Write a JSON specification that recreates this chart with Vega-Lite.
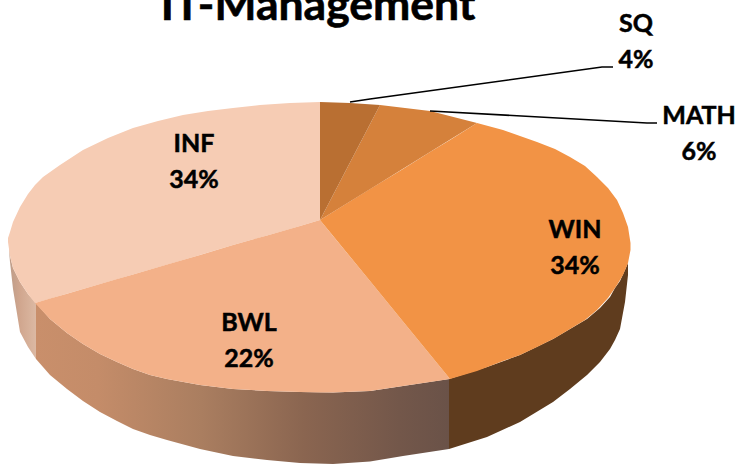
{"$schema":"https://vega.github.io/schema/vega-lite/v6.json","width":741,"height":464,"padding":0,"autosize":{"type":"none"},"background":"white","config":{"view":{"stroke":null}},
"datasets":{
"top":[
{"slice":"INF","x":8,"y":238,"y2":242},{"slice":"INF","x":10,"y":232,"y2":256},{"slice":"INF","x":13,"y":222,"y2":268},{"slice":"INF","x":20,"y":207,"y2":282},{"slice":"INF","x":28,"y":194,"y2":294},{"slice":"INF","x":35,"y":185,"y2":303},{"slice":"INF","x":43,"y":177,"y2":300.7},{"slice":"INF","x":60,"y":165,"y2":295.7},{"slice":"INF","x":83,"y":150,"y2":289},{"slice":"INF","x":108,"y":138,"y2":281.8},{"slice":"INF","x":133,"y":128,"y2":274.5},{"slice":"INF","x":158,"y":121,"y2":267.2},{"slice":"INF","x":183,"y":115,"y2":260},{"slice":"INF","x":208,"y":111,"y2":252.6},{"slice":"INF","x":233,"y":108,"y2":245},{"slice":"INF","x":260,"y":105,"y2":237.5},{"slice":"INF","x":290,"y":103,"y2":229},{"slice":"INF","x":320,"y":102,"y2":220},
{"slice":"BWL","x":35,"y":303,"y2":303},{"slice":"BWL","x":50,"y":298.6,"y2":319},{"slice":"BWL","x":67,"y":293.7,"y2":333},{"slice":"BWL","x":83,"y":289,"y2":344},{"slice":"BWL","x":100,"y":284,"y2":354},{"slice":"BWL","x":117,"y":279,"y2":362},{"slice":"BWL","x":133,"y":274.5,"y2":369},{"slice":"BWL","x":150,"y":269.5,"y2":375},{"slice":"BWL","x":167,"y":264.6,"y2":379},{"slice":"BWL","x":200,"y":255,"y2":385},{"slice":"BWL","x":233,"y":245,"y2":389},{"slice":"BWL","x":267,"y":235.4,"y2":391},{"slice":"BWL","x":300,"y":226,"y2":392},{"slice":"BWL","x":320,"y":220,"y2":392.5},{"slice":"BWL","x":333,"y":236,"y2":392.5},{"slice":"BWL","x":370,"y":281,"y2":391},{"slice":"BWL","x":403,"y":321.5,"y2":386},{"slice":"BWL","x":430,"y":354.5,"y2":382},{"slice":"BWL","x":450,"y":379,"y2":379},
{"slice":"WIN","x":320,"y":220,"y2":220},{"slice":"WIN","x":370,"y":189,"y2":281},{"slice":"WIN","x":403,"y":169,"y2":321.5},{"slice":"WIN","x":430,"y":152,"y2":354.5},{"slice":"WIN","x":450,"y":140,"y2":379},{"slice":"WIN","x":477,"y":123,"y2":371},{"slice":"WIN","x":503,"y":130,"y2":361},{"slice":"WIN","x":520,"y":136,"y2":355},{"slice":"WIN","x":537,"y":142,"y2":347},{"slice":"WIN","x":555,"y":149,"y2":338},{"slice":"WIN","x":570,"y":157,"y2":329},{"slice":"WIN","x":585,"y":166,"y2":320},{"slice":"WIN","x":597,"y":177,"y2":310},{"slice":"WIN","x":608,"y":188,"y2":298},{"slice":"WIN","x":617,"y":200,"y2":285},{"slice":"WIN","x":623,"y":213,"y2":275},{"slice":"WIN","x":628,"y":227,"y2":263},{"slice":"WIN","x":630.5,"y":243,"y2":250},
{"slice":"MATH","x":320,"y":220,"y2":220},{"slice":"MATH","x":350,"y":162.5,"y2":201.5},{"slice":"MATH","x":380,"y":105,"y2":183},{"slice":"MATH","x":430,"y":111,"y2":152},{"slice":"MATH","x":477,"y":123,"y2":123},
{"slice":"SQ","x":320,"y":102,"y2":220},{"slice":"SQ","x":350,"y":103,"y2":162.5},{"slice":"SQ","x":380,"y":105,"y2":105}
],
"side":[
{"slice":"INF","x":9,"y":245,"y2":250},{"slice":"INF","x":10,"y":256,"y2":262},{"slice":"INF","x":13,"y":268,"y2":289},{"slice":"INF","x":20,"y":282,"y2":332},{"slice":"INF","x":28,"y":294,"y2":347},{"slice":"INF","x":36,"y":303,"y2":359},
{"slice":"BWL","x":36,"y":303,"y2":359},{"slice":"BWL","x":50,"y":319,"y2":375},{"slice":"BWL","x":67,"y":333,"y2":389},{"slice":"BWL","x":83,"y":344,"y2":401},{"slice":"BWL","x":100,"y":354,"y2":412},{"slice":"BWL","x":117,"y":362,"y2":421},{"slice":"BWL","x":133,"y":369,"y2":429},{"slice":"BWL","x":150,"y":375,"y2":435},{"slice":"BWL","x":167,"y":379,"y2":440},{"slice":"BWL","x":200,"y":385,"y2":449},{"slice":"BWL","x":233,"y":389,"y2":456},{"slice":"BWL","x":267,"y":391,"y2":460},{"slice":"BWL","x":300,"y":392,"y2":463},{"slice":"BWL","x":333,"y":392.5,"y2":464},{"slice":"BWL","x":370,"y":391,"y2":461.5},{"slice":"BWL","x":403,"y":386,"y2":456},{"slice":"BWL","x":449,"y":379,"y2":449},
{"slice":"WIN","x":449,"y":379,"y2":449},{"slice":"WIN","x":487,"y":367,"y2":437},{"slice":"WIN","x":520,"y":355,"y2":422},{"slice":"WIN","x":553,"y":339,"y2":402},{"slice":"WIN","x":570,"y":329,"y2":389},{"slice":"WIN","x":587,"y":319,"y2":375},{"slice":"WIN","x":600,"y":308,"y2":362},{"slice":"WIN","x":610,"y":297,"y2":349},{"slice":"WIN","x":615,"y":288,"y2":340},{"slice":"WIN","x":620,"y":281,"y2":329},{"slice":"WIN","x":625,"y":270,"y2":302},{"slice":"WIN","x":628,"y":263,"y2":275}
],
"leaders":[
{"slice":"SQ","x":350,"y":102},{"slice":"SQ","x":370,"y":99},{"slice":"SQ","x":602,"y":67},{"slice":"SQ","x":613,"y":67},
{"slice":"MATH","x":430,"y":111},{"slice":"MATH","x":647,"y":123},{"slice":"MATH","x":657,"y":123}
],
"labels":[
{"label":"SQ\n4%","x":636,"y":32},{"label":"MATH\n6%","x":699,"y":124},{"label":"WIN\n34%","x":575,"y":238},{"label":"BWL\n22%","x":249,"y":331},{"label":"INF\n34%","x":194,"y":152}
],
"title":[{"label":"IT-Management","x":318,"y":20}]
},
"layer":[
{"data":{"name":"side"},"transform":[{"filter":"datum.slice==='INF'"}],"mark":{"type":"area","fill":{"gradient":"linear","x1":0,"x2":1,"y1":0,"y2":0,"stops":[{"offset":0,"color":"#bd9c88"},{"offset":0.4,"color":"#d0a68e"},{"offset":1,"color":"#dcb9a3"}]}},
"encoding":{"x":{"field":"x","type":"quantitative","scale":{"domain":[0,741],"nice":false,"zero":false},"axis":null},"y":{"field":"y","type":"quantitative","scale":{"domain":[464,0],"nice":false,"zero":false},"axis":null},"y2":{"field":"y2"}}},
{"data":{"name":"side"},"transform":[{"filter":"datum.slice==='BWL'"}],"mark":{"type":"area","fill":{"gradient":"linear","x1":0,"x2":1,"y1":0,"y2":0,"stops":[{"offset":0,"color":"#c98f6b"},{"offset":0.15,"color":"#c48c69"},{"offset":0.4,"color":"#aa7e60"},{"offset":0.65,"color":"#8a6550"},{"offset":0.88,"color":"#73574a"},{"offset":1,"color":"#6a5248"}]}},
"encoding":{"x":{"field":"x","type":"quantitative","scale":{"domain":[0,741],"nice":false,"zero":false},"axis":null},"y":{"field":"y","type":"quantitative","scale":{"domain":[464,0],"nice":false,"zero":false},"axis":null},"y2":{"field":"y2"}}},
{"data":{"name":"side"},"transform":[{"filter":"datum.slice==='WIN'"}],"mark":{"type":"area","color":"#5f3c1e"},
"encoding":{"x":{"field":"x","type":"quantitative","scale":{"domain":[0,741],"nice":false,"zero":false},"axis":null},"y":{"field":"y","type":"quantitative","scale":{"domain":[464,0],"nice":false,"zero":false},"axis":null},"y2":{"field":"y2"}}},
{"data":{"name":"top"},"mark":{"type":"area"},
"encoding":{"x":{"field":"x","type":"quantitative","scale":{"domain":[0,741],"nice":false,"zero":false},"axis":null},"y":{"field":"y","type":"quantitative","scale":{"domain":[464,0],"nice":false,"zero":false},"axis":null},"y2":{"field":"y2"},"color":{"field":"slice","type":"nominal","legend":null,"scale":{"domain":["SQ","MATH","WIN","BWL","INF"],"range":["#b96f32","#d5813b","#f29345","#f3b189","#f6ccb4"]}}}},
{"data":{"name":"leaders"},"mark":{"type":"line","color":"#000000","strokeWidth":1.6},
"encoding":{"x":{"field":"x","type":"quantitative"},"y":{"field":"y","type":"quantitative"},"detail":{"field":"slice"}}},
{"data":{"name":"labels"},"mark":{"type":"text","font":"Lato","fontWeight":"bold","fontSize":25,"color":"#000000","stroke":"#000000","strokeWidth":0.5,"align":"center","baseline":"alphabetic","lineBreak":"\n","lineHeight":36},
"encoding":{"x":{"field":"x","type":"quantitative"},"y":{"field":"y","type":"quantitative"},"text":{"field":"label"}}},
{"data":{"name":"title"},"mark":{"type":"text","font":"Lato","fontWeight":"bold","fontSize":44.5,"color":"#000000","stroke":"#000000","strokeWidth":0.6,"align":"center","baseline":"alphabetic"},
"encoding":{"x":{"field":"x","type":"quantitative"},"y":{"field":"y","type":"quantitative"},"text":{"field":"label"}}}
]}
